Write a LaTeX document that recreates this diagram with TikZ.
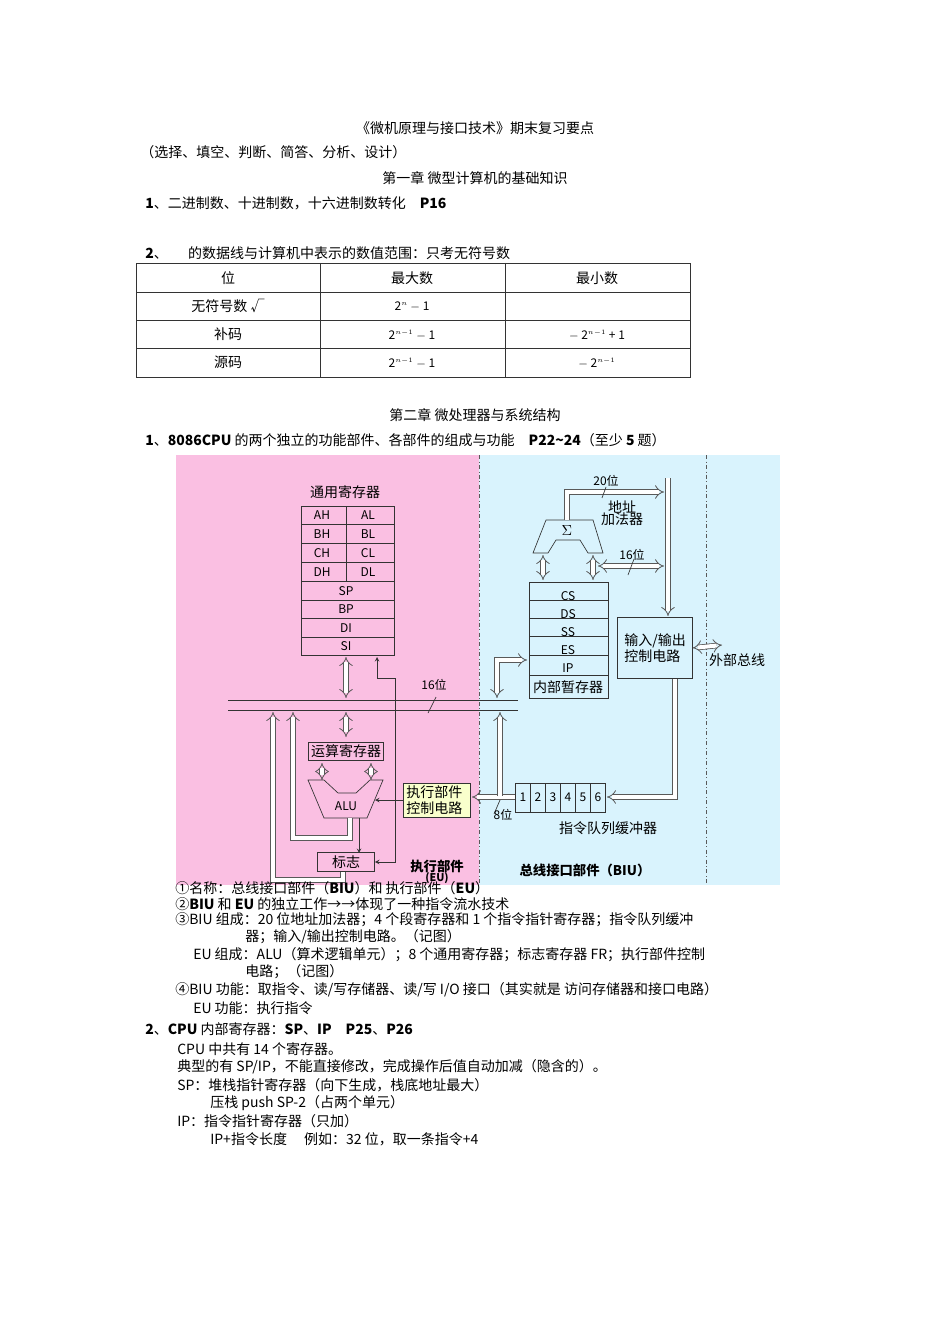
\documentclass[tikz,border=0pt]{standalone}
\usepackage{fontspec}
\setmainfont{Noto Sans CJK SC}
\usetikzlibrary{arrows.meta}
\begin{document}
\begin{tikzpicture}[x=0.75pt,y=-0.75pt,font=\fontsize{10.5}{12}\selectfont,
  txt/.style={anchor=west,inner sep=0},
  ctr/.style={inner sep=0},
  hol/.style={draw=gray!70!black,double=white,double distance=3pt,line width=0.6pt},
  hh/.style={hol,{Implies}-{Implies}},
  hr/.style={hol,-{Implies}},
  dg/.style={font=\fontsize{9}{10}\selectfont},
  thin/.style={draw=black!80,line width=0.5pt}]
\useasboundingbox (0,0) rectangle (950,1344);
\fill[white] (0,0) rectangle (950,1344);
% header text
\node[ctr] (t1) at (475,128) {《微机原理与接口技术》期末复习要点};
\node[txt] (t2) at (140,152) {（选择、填空、判断、简答、分析、设计）};
\node[ctr] (t3) at (475,178) {第一章\ 微型计算机的基础知识};
\node[txt] (t4) at (145,203) {\textbf{1}、二进制数、十进制数，十六进制数转化\quad \textbf{P16}};
\node[txt] (t5) at (145,253) {\textbf{2}、\quad\ \ 的数据线与计算机中表示的数值范围：只考无符号数};
% table
\draw[thin] (136,263) rectangle (690,377);
\foreach \y in {292,320,348} \draw[thin] (136,\y) -- (690,\y);
\foreach \x in {320,505} \draw[thin] (\x,263) -- (\x,377);
\node[ctr] (c11) at (228,278) {位};
\node[ctr] (c12) at (412,278) {最大数};
\node[ctr] (c13) at (597,278) {最小数};
\node[ctr] (c21) at (228,306) {无符号数 √};
\node[ctr,dg] (c22) at (412,307) {2$^{\scriptscriptstyle n}$ $-$ 1};
\node[ctr] (c31) at (228,334) {补码};
\node[ctr,dg] (c32) at (412,335) {2$^{\scriptscriptstyle n-1}$ $-$ 1};
\node[ctr,dg] (c33) at (597,335) {$-$ 2$^{\scriptscriptstyle n-1}$ + 1};
\node[ctr] (c41) at (228,362) {源码};
\node[ctr,dg] (c42) at (412,363) {2$^{\scriptscriptstyle n-1}$ $-$ 1};
\node[ctr,dg] (c43) at (597,363) {$-$ 2$^{\scriptscriptstyle n-1}$};
\node[ctr] (t6) at (475,415) {第二章\ 微处理器与系统结构};
\node[txt] (t7) at (145,440) {\textbf{1}、\textbf{8086CPU} 的两个独立的功能部件、各部件的组成与功能\quad \textbf{P22\textasciitilde24}（至少 \textbf{5} 题）};
% diagram background
\fill[magenta!25] (176,455) rectangle (479,885);
\fill[cyan!15] (479,455) rectangle (780,885);
\draw[gray!70!black,dash dot] (479,455) -- (479,885);
\draw[gray!70!black,dash dot] (706,455) -- (706,885);
% general registers
\node[ctr] (gr) at (345,492) {通用寄存器};
\draw[thin] (301,506) rectangle (394,655);
\foreach \y in {524,543,562,581,600,618,637} \draw[thin] (301,\y) -- (394,\y);
\draw[thin] (346,506) -- (346,581);
\foreach \n/\y in {AH/515,BH/534,CH/553,DH/572} \node[ctr,dg] at (322,\y) {\n};
\foreach \n/\y in {AL/515,BL/534,CL/553,DL/572} \node[ctr,dg] at (368,\y) {\n};
\foreach \n/\y in {SP/591,BP/609,DI/628,SI/646} \node[ctr,dg] at (346,\y) {\n};
% bus
\draw[thin] (228,700) -- (518,700);
\draw[thin] (228,710) -- (518,710);
\draw[thin] (428,713) -- (436,697);
\node[ctr,dg] (b16) at (434,685) {16位};
\draw[hh] (346,657) -- (346,698);
\draw[hh] (346,712) -- (346,737);
% 运算寄存器
\node[draw=black!80,inner sep=2pt] (ar) at (346,751) {运算寄存器};
\draw[hh] (322,763) -- (322,780);
\draw[hh] (371,763) -- (371,780);
% ALU
\draw[thin,fill=magenta!25] (308,780) -- (324,780) -- (338,793) -- (356,793) -- (370,780) -- (383,780) -- (367,818) -- (324,818) -- cycle;
\node[ctr,dg] (alu) at (346,806) {ALU};
\node[draw=black!80,fill=green!12!yellow!20,align=left,inner sep=2pt,text width=46] (ctl) at (437,800) {执行部件\\控制电路};
\draw[thin,-stealth] (ctl.west) -- (375,800);
\node[draw=black!80,inner sep=1pt,minimum width=43,minimum height=14] (flag) at (346,862) {标志};
\draw[thin,-stealth] (359,818) -- (359,853);
\draw[thin,stealth-stealth] (377,657) -- (377,678) -- (395,678) -- (395,862) -- (flag.east);
\draw[hr] (350,818) -- (350,838) -- (293,838) -- (293,712);
\draw[hr] (343,872) -- (343,880) -- (273,880) -- (273,712);
% BIU
\draw[thin] (529,582) rectangle (608,698);
\foreach \y in {600,618,636,655,675} \draw[thin] (529,\y) -- (608,\y);
\foreach \n/\y in {CS/596,DS/614,SS/632,ES/650,IP/668} \node[ctr,dg] at (568,\y) {\n};
\node[ctr] (tmp) at (568,687) {内部暂存器};
\draw[thin,fill=cyan!15] (546,520) -- (593,520) -- (603,553) -- (588,553) -- (580,540) -- (556,540) -- (548,553) -- (533,553) -- cycle;
\node[ctr] (sig) at (567,531) {$\Sigma$};
\draw[hh] (543,555) -- (543,580);
\draw[hh] (593,555) -- (593,580);
\draw[hr] (567,520) -- (567,492) -- (664,492);
\node[ctr,dg] (b20) at (606,481) {20位};
\draw[thin] (602,498) -- (606,487);
\node[ctr,align=center] (adder) at (622,513) {地址\\[-3pt]加法器};
\draw[hr] (668,478) -- (668,616);
\draw[hh] (598,566) -- (664,566);
\node[ctr,dg] (b16b) at (632,555) {16位};
\draw[thin] (628,575) -- (634,559);
\node[draw=black!80,align=left,inner sep=2pt,minimum width=56,minimum height=46] (io) at (655,648) {输入/输出\\控制电路};
\draw[hh] (io.east) -- (722,645);
\node[ctr] (ext) at (737,660) {外部总线};
\draw[hr] (675,679) -- (675,797) -- (607,797);
% queue
\draw[thin] (515,783) rectangle (605,812);
\foreach \i in {1,...,5} \draw[thin] (515+15*\i,783) -- (515+15*\i,812);
\foreach \i in {1,...,6} \node[ctr,dg] at (508+15*\i,797) {\i};
\node[ctr] (ql) at (608,828) {指令队列缓冲器};
\draw[hr] (515,797) -- (472,797);
\draw[hr] (500,796) -- (500,712);
\draw[thin] (494,814) -- (500,800);
\node[ctr,dg] (b8) at (503,815) {8位};
\draw[hh] (497,698) -- (497,660) -- (527,660);
\node[ctr,font=\bfseries] (eu) at (437,866) {执行部件};
\node[ctr,font=\bfseries\fontsize{8}{9}\selectfont] (eu2) at (437,878) {(EU)};
\node[ctr,font=\bfseries] (biu) at (585,870) {总线接口部件（BIU）};
% lower text
\node[txt] at (175,888) {①名称：总线接口部件（\textbf{BIU}）和\ 执行部件（\textbf{EU}）};
\node[txt] at (175,904) {②\textbf{BIU} 和 \textbf{EU} 的独立工作→→体现了一种指令流水技术};
\node[txt] at (175,920) {③BIU 组成：20 位地址加法器；4 个段寄存器和 1 个指令指针寄存器；指令队列缓冲};
\node[txt] at (245,937) {器；输入/输出控制电路。（记图）};
\node[txt] at (193,955) {EU 组成：ALU（算术逻辑单元）；8 个通用寄存器；标志寄存器 FR；执行部件控制};
\node[txt] at (245,972) {电路；（记图）};
\node[txt] at (175,990) {④BIU 功能：取指令、读/写存储器、读/写 I/O 接口（其实就是\ 访问存储器和接口电路）};
\node[txt] at (193,1008) {EU 功能：执行指令};
\node[txt] at (145,1029) {\textbf{2}、\textbf{CPU} 内部寄存器：\textbf{SP}、\textbf{IP}\quad \textbf{P25}、\textbf{P26}};
\node[txt] at (177,1049) {CPU 中共有 14 个寄存器。};
\node[txt] at (177,1067) {典型的有 SP/IP，不能直接修改，完成操作后值自动加减（隐含的）。};
\node[txt] at (177,1085) {SP：堆栈指针寄存器（向下生成，栈底地址最大）};
\node[txt] at (210,1103) {压栈\ push SP-2（占两个单元）};
\node[txt] at (177,1121) {IP：指令指针寄存器（只加）};
\node[txt] at (210,1139) {IP+指令长度\quad\ 例如：32 位，取一条指令+4};
\end{tikzpicture}
\end{document}
